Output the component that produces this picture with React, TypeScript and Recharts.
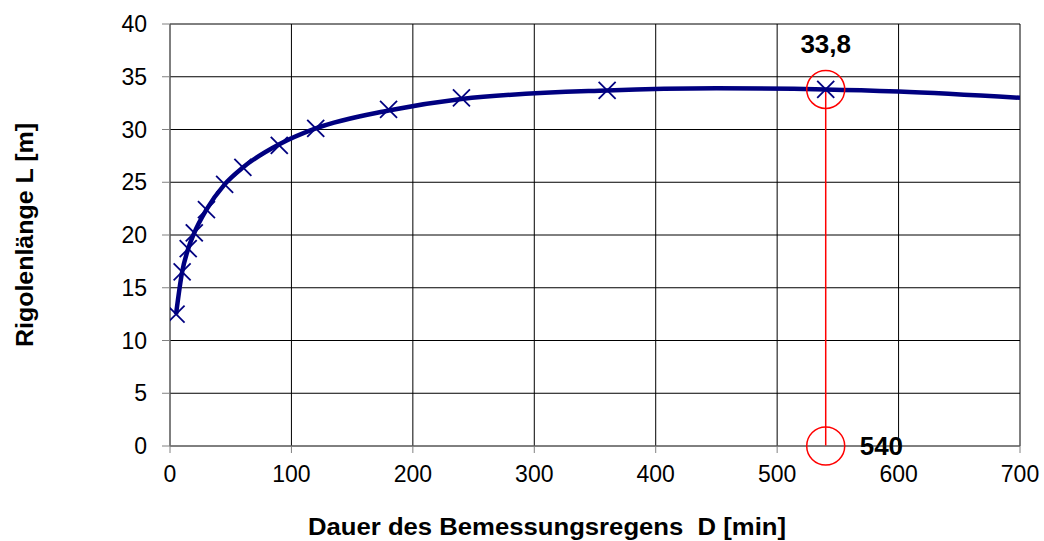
import React from "react";
import {
  ComposedChart,
  Line,
  Scatter,
  XAxis,
  YAxis,
  CartesianGrid,
  ReferenceLine,
  ReferenceDot,
  Label,
} from "recharts";

// Measured points (duration D [min], length L [m])
const durations = [5, 10, 15, 20, 30, 45, 60, 90, 120, 180, 240, 360, 540];
const lengths = [12.5, 16.5, 18.7, 20.2, 22.4, 24.8, 26.4, 28.5, 30.1, 31.9, 33.0, 33.7, 33.8];

// Smoothed curve points
const curveD = [5, 10, 15, 20, 30, 45, 60, 90, 120, 180, 240, 360, 450, 540, 600, 700];
const curveL = [12.5, 16.5, 18.7, 20.2, 22.4, 24.8, 26.4, 28.6, 30.1, 31.8, 32.9, 33.7, 33.9, 33.8, 33.6, 33.0];

const xTicks = [0, 100, 200, 300, 400, 500, 600, 700];
const yTicks = [0, 5, 10, 15, 20, 25, 30, 35, 40];

const optD = 540;
const optL = 33.8;
const optLabelL = "33,8";
const optLabelD = "540";

const xTitle = "Dauer des Bemessungsregens \u00a0D [min]";
const yTitle = "Rigolenlänge L [m]";

const markers = durations.map((d, i) => ({ d, L: lengths[i] }));
const curve = curveD.map((d, i) => ({ d, L: curveL[i] }));
const segment = [
  { x: optD, y: 0 },
  { x: optD, y: optL },
];

const NAVY = "#000080";
const RED = "#ff0000";
const FONT = "'Liberation Sans', Arial, sans-serif";

const XMark = (props: any) => {
  const { cx, cy } = props;
  if (cx == null || cy == null) return null;
  const s = 8.5;
  return (
    <g>
      <line x1={cx - s} y1={cy - s} x2={cx + s} y2={cy + s} stroke={NAVY} strokeWidth={1.8} />
      <line x1={cx - s} y1={cy + s} x2={cx + s} y2={cy - s} stroke={NAVY} strokeWidth={1.8} />
    </g>
  );
};

const centerOf = (vb: any) => ({
  cx: vb.x + (vb.width || 0) / 2,
  cy: vb.y + (vb.height || 0) / 2,
});

export default function App() {
  return (
    <div style={{ position: "absolute", left: 0, top: 0, fontFamily: FONT }}>
      <ComposedChart
        width={1044}
        height={541}
        margin={{ top: 24, right: 24, bottom: 0, left: 0 }}
      >
        <CartesianGrid stroke="#000" strokeWidth={1} />
        <XAxis
          dataKey="d"
          type="number"
          domain={[0, 700]}
          ticks={xTicks}
          height={95}
          tickSize={7}
          tickMargin={13}
          stroke="#808080"
          tick={{ fill: "#000", fontSize: 23, fontFamily: FONT }}
          allowDataOverflow
        >
          <Label
            content={() => (
              <text
                x={547}
                y={535}
                textAnchor="middle"
                fontFamily={FONT}
                fontWeight="bold"
                fontSize={23}
                fill="#000"
                textLength={478}
                lengthAdjust="spacingAndGlyphs"
                style={{ whiteSpace: "pre" }}
              >
                {xTitle}
              </text>
            )}
          />
        </XAxis>
        <YAxis
          dataKey="L"
          type="number"
          domain={[0, 40]}
          ticks={yTicks}
          width={170}
          tickSize={8}
          tickMargin={15}
          stroke="#808080"
          tick={{ fill: "#000", fontSize: 23, fontFamily: FONT }}
          allowDataOverflow
        >
          <Label
            content={() => (
              <text
                x={33}
                y={235}
                transform="rotate(-90 33 235)"
                textAnchor="middle"
                fontFamily={FONT}
                fontWeight="bold"
                fontSize={23}
                fill="#000"
                textLength={224}
                lengthAdjust="spacingAndGlyphs"
              >
                {yTitle}
              </text>
            )}
          />
        </YAxis>
        <ReferenceLine segment={segment} stroke={RED} strokeWidth={1.5} />
        <Line
          data={curve}
          dataKey="L"
          type="monotone"
          stroke={NAVY}
          strokeWidth={4.5}
          dot={false}
          activeDot={false}
          isAnimationActive={false}
        />
        <Scatter
          data={markers}
          dataKey="L"
          shape={<XMark />}
          isAnimationActive={false}
        />
        <ReferenceDot
          x={optD}
          y={optL}
          r={19}
          fill="none"
          stroke={RED}
          strokeWidth={1.5}
          label={{
            content: (p: any) => {
              const { cx, cy } = centerOf(p.viewBox);
              return (
                <text
                  x={cx}
                  y={cy - 36}
                  textAnchor="middle"
                  fontFamily={FONT}
                  fontWeight="bold"
                  fontSize={26}
                  fill="#000"
                >
                  {optLabelL}
                </text>
              );
            },
          }}
        />
        <ReferenceDot
          x={optD}
          y={0}
          r={19}
          fill="none"
          stroke={RED}
          strokeWidth={1.5}
          label={{
            content: (p: any) => {
              const { cx, cy } = centerOf(p.viewBox);
              return (
                <text
                  x={cx + 34}
                  y={cy + 9}
                  textAnchor="start"
                  fontFamily={FONT}
                  fontWeight="bold"
                  fontSize={26}
                  fill="#000"
                >
                  {optLabelD}
                </text>
              );
            },
          }}
        />
      </ComposedChart>
    </div>
  );
}
